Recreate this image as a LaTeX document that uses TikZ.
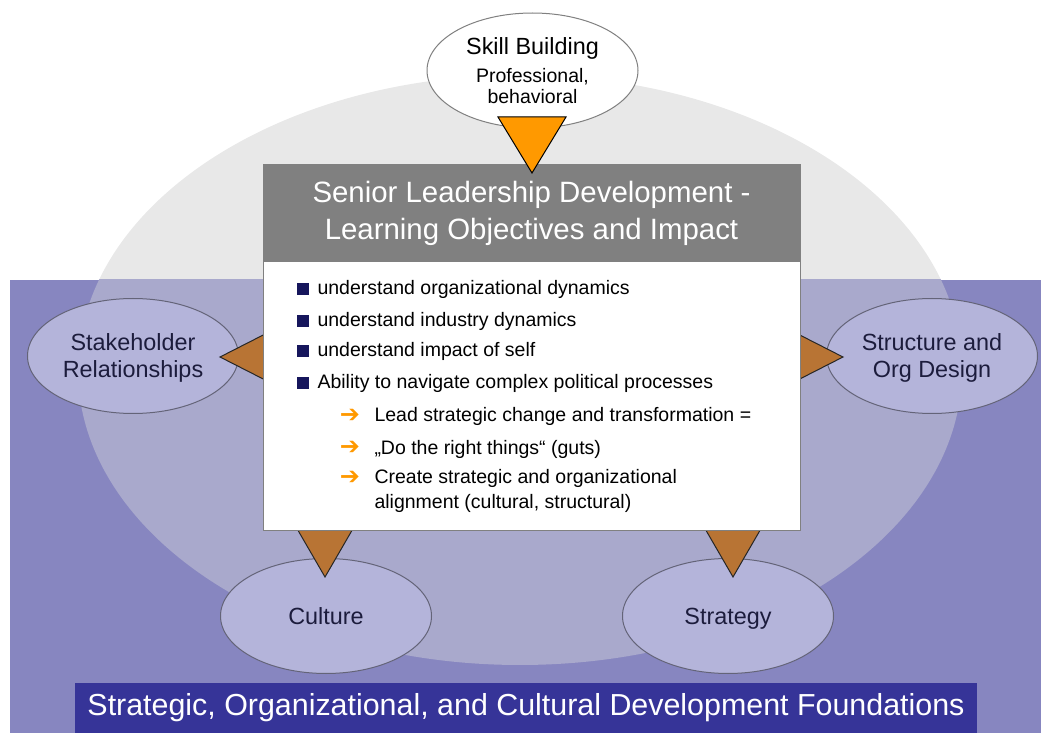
\documentclass[tikz,border=0pt]{standalone}
\usepackage{fontspec}
\setmainfont{Liberation Sans}
\newfontfamily\symfont{DejaVu Sans}
\usetikzlibrary{shapes.geometric}

\definecolor{bggray}{RGB}{232,232,232}
\definecolor{outerpurple}{RGB}{135,134,192}
\definecolor{innerpurple}{RGB}{169,169,204}
\definecolor{topicfill}{RGB}{180,180,218}
\definecolor{topictext}{RGB}{28,28,60}
\definecolor{rimgray}{RGB}{100,100,120}
\definecolor{bannerblue}{RGB}{54,52,152}
\definecolor{headgray}{RGB}{128,128,128}
\definecolor{skillorange}{RGB}{255,153,0}
\definecolor{pointbrown}{RGB}{184,116,52}
\definecolor{bulletnavy}{RGB}{22,22,92}

\begin{document}
\begin{tikzpicture}[
       x=0.5pt, y=-0.5pt,
       line width=0.5pt,
       topic/.style={
         ellipse,
         draw=rimgray,
         fill=topicfill,
         text=topictext,
         inner sep=0pt,
         text depth=0pt,
         minimum width=105.5pt,
         minimum height=57.5pt,
         align=center,
         font=\fontsize{11.7}{13.5}\selectfont
       },
       pointer/.style={
         fill=pointbrown,
         draw=black!85,
         line join=miter
       },
       sq/.style={
         rectangle,
         fill=bulletnavy,
         inner sep=0pt,
         minimum size=5.6pt
       },
       arr/.style={
         inner sep=0pt,
         text=skillorange,
         font=\symfont\bfseries\fontsize{12}{12}\selectfont
       },
       item/.style={
         anchor=base west,
         inner sep=0pt,
         font=\fontsize{9.75}{12}\selectfont
       }
     ]
       \useasboundingbox (0,0) rectangle (1041,733);

       % backdrop
       \fill[bggray] (520,370) ellipse [x radius=442, y radius=295];
       \fill[outerpurple] (10,280) rectangle (1041,733);
       \begin{scope}
         \clip (10,280) rectangle (1041,733);
         \fill[innerpurple] (520,370) ellipse [x radius=442, y radius=295];
       \end{scope}

       \node (found) at (526,708) [rectangle,fill=bannerblue,text=white,minimum width=451pt,minimum height=25pt,inner sep=0pt,font=\fontsize{15.2}{17}\selectfont]{Strategic, Organizational, and Cultural Development Foundations};

       % topics
       \node (skill) at (532.5,70.5) [topic,fill=white,draw=headgray,text=black]{Skill Building\\[0.5pt]{\fontsize{9.75}{10.5}\selectfont Professional,}\\[-3pt]{\fontsize{9.75}{10.5}\selectfont behavioral}};
       \node (stake) at (133,356) [topic]{Stakeholder\\Relationships};
       \node (struct) at (932,356) [topic]{Structure and\\Org Design};
       \node (cult) at (326,616) [topic]{Culture};
       \node (strat) at (728,616) [topic]{Strategy};

       \fill[pointer] (220,357) -- (275,329) -- (275,385) -- cycle;
       \fill[pointer] (843,357) -- (788,329) -- (788,385) -- cycle;
       \fill[pointer] (325,577) -- (292,520) -- (358,520) -- cycle;
       \fill[pointer] (733,577) -- (700,520) -- (766,520) -- cycle;

       % objectives box
       \node (box) at (531.5,396) [rectangle,draw=headgray,fill=white,minimum width=268.5pt,minimum height=134pt,inner sep=0pt]{};
       \node (head) at (531.5,213) [rectangle,draw=headgray,fill=headgray,text=white,minimum width=268.5pt,minimum height=48pt,inner sep=0pt,align=center,font=\fontsize{14.7}{18.5}\selectfont]{Senior Leadership Development -\\Learning Objectives and Impact};

       \fill[skillorange,draw=black] (532,173) -- (498,117) -- (566,117) -- cycle;

       \node (b1) at (303,289) [sq]{};
       \node (b2) at (303,321) [sq]{};
       \node (b3) at (303,351) [sq]{};
       \node (b4) at (303,383) [sq]{};
       \node (t1) at (317,295) [item]{understand organizational dynamics};
       \node (t2) at (317,327) [item]{understand industry dynamics};
       \node (t3) at (317,357) [item]{understand impact of self};
       \node (t4) at (317,389) [item]{Ability to navigate complex political processes};

       \node (a1) at (350,416) [arr]{➔};
       \node (a2) at (350,448) [arr]{➔};
       \node (a3) at (350,478) [arr]{➔};
       \node (t5) at (374,422) [item]{Lead strategic change and transformation =};
       \node (t6) at (374,454) [item]{„Do the right things“ (guts)};
       \node (t7) at (374,484) [item]{Create strategic and organizational};
       \node (t8) at (374,509) [item]{alignment (cultural, structural)};

\end{tikzpicture}
\end{document}
